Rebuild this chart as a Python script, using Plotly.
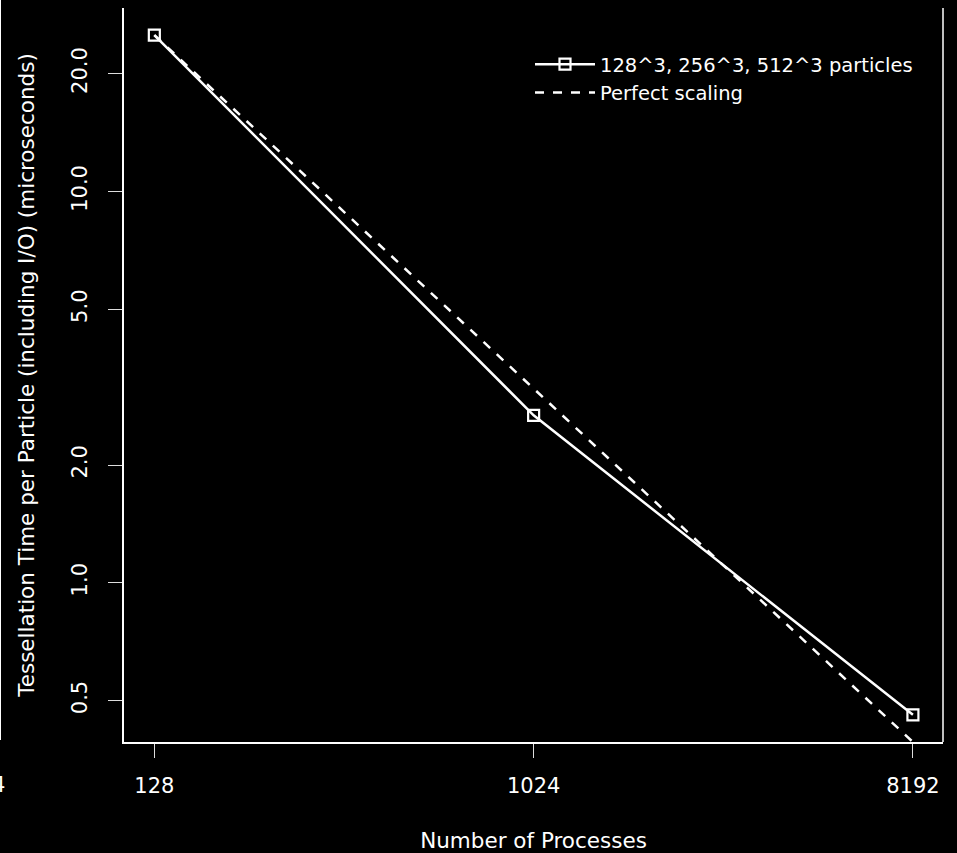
import plotly.graph_objects as go

# Data
procs = [128, 1024, 8192]
tess_time = [25.1, 2.68, 0.46]
perfect_time = [25.1, 3.14, 0.392]

x_tickvals = [128, 1024, 8192]
x_ticktext = ["128", "1024", "8192"]
y_tickvals = [0.5, 1, 2, 5, 10, 20]
y_ticktext = ["0.5", "1.0", "2.0", "5.0", "10.0", "20.0"]

FONT = "DejaVu Sans"
W, H = 957, 853
L, R, T, B = 124, 14, 8, 111
PW = W - L - R
PH = H - T - B

fig = go.Figure()
fig.add_trace(go.Scatter(
    x=procs, y=tess_time, mode="lines+markers",
    name="128^3, 256^3, 512^3 particles",
    line=dict(color="white", width=2.5),
    marker=dict(symbol="square-open", size=11, color="white", line=dict(width=2.2, color="white")),
))
fig.add_trace(go.Scatter(
    x=procs, y=perfect_time, mode="lines",
    name="Perfect scaling",
    line=dict(color="white", width=2.5, dash="9px,9px"),
))

axis_common = dict(
    showgrid=False, zeroline=False, showline=True, linecolor="white", linewidth=1.5,
    ticks="outside", ticklen=14, tickwidth=1.2, tickcolor="#dddddd",
    tickfont=dict(family=FONT, size=21, color="white"),
    automargin=False,
)

fig.update_xaxes(
    type="log", range=[2.035, 3.985],
    tickvals=x_tickvals, ticktext=x_ticktext,
    ticklabelstandoff=10,
    title=dict(text="Number of Processes", font=dict(family=FONT, size=21.5, color="white"), standoff=38),
    **axis_common,
)
fig.update_yaxes(
    type="log", range=[-0.4067, 1.469],
    tickvals=y_tickvals, ticktext=y_ticktext, tickangle=-90,
    ticklabelstandoff=13,
    title=dict(text="Tessellation Time per Particle (including I/O) (microseconds)",
               font=dict(family=FONT, size=21.5, color="white"), standoff=27),
    **axis_common,
)

def px_x(p):
    return (p - L) / PW

def px_y(p):
    return (H - B - p) / PH

shapes = [
    # right side of the box
    dict(type="line", xref="paper", yref="paper", x0=1, x1=1, y0=0, y1=1,
         line=dict(color="white", width=1.5)),
    # edge of neighbouring panel (crop artifact)
    dict(type="line", xref="paper", yref="paper", x0=px_x(0), x1=px_x(0), y0=px_y(740), y1=px_y(-5),
         line=dict(color="white", width=2)),
]

annotations = [
    dict(text="4", xref="paper", yref="paper", x=px_x(7), y=px_y(785),
         xanchor="right", yanchor="middle", showarrow=False,
         font=dict(family=FONT, size=21, color="white")),
]

fig.update_layout(
    width=W, height=H,
    margin=dict(l=L, r=R, t=T, b=B, autoexpand=False),
    paper_bgcolor="black", plot_bgcolor="black",
    font=dict(family=FONT, size=20, color="white"),
    showlegend=True,
    legend=dict(x=px_x(530), y=px_y(45), xanchor="left", yanchor="top",
                bgcolor="rgba(0,0,0,0)", font=dict(family=FONT, size=19.5, color="white"),
                itemwidth=60, tracegroupgap=0),
    shapes=shapes, annotations=annotations,
)

fig.write_html("out.html")
